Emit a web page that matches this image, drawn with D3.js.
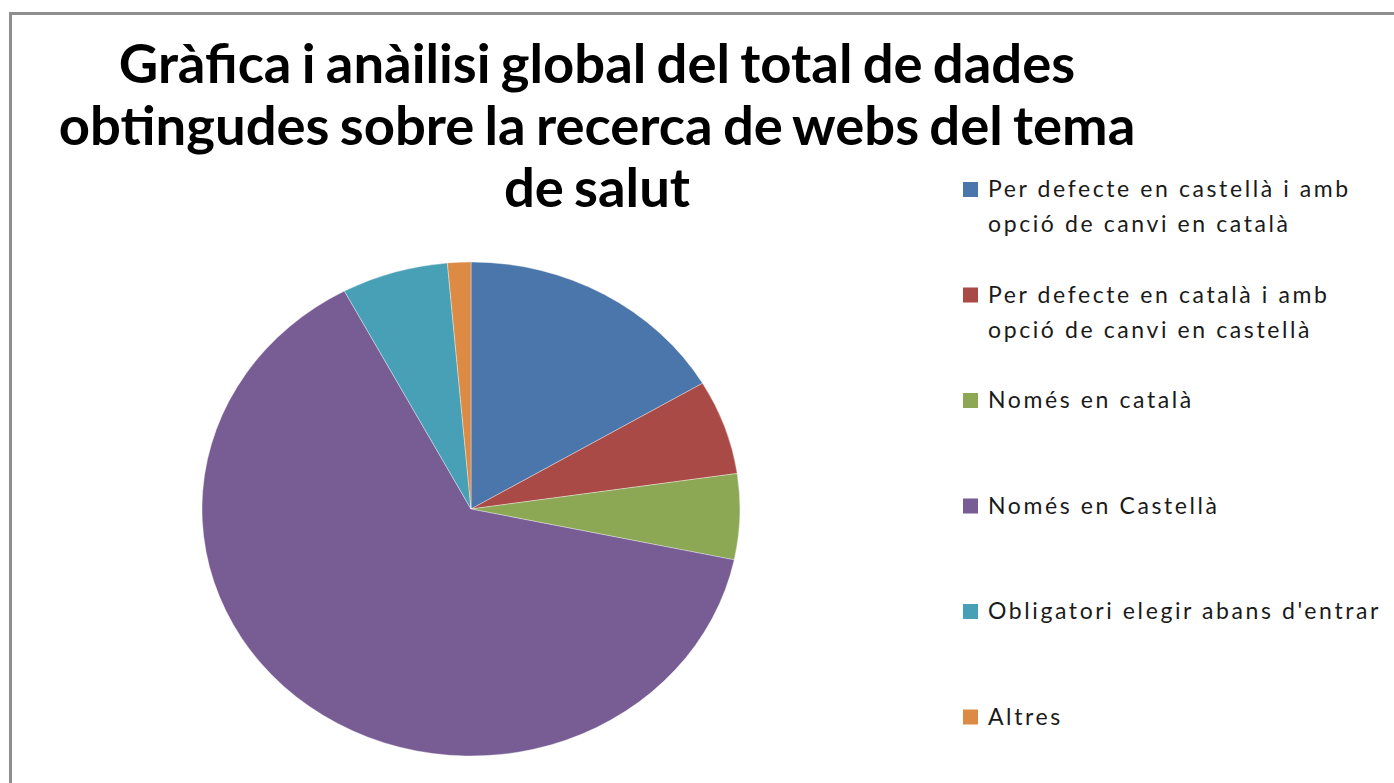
<!DOCTYPE html>
<html>
<head>
<meta charset="utf-8">
<script src="https://cdn.jsdelivr.net/npm/d3@7/dist/d3.min.js"></script>
<style>
  html, body { margin: 0; padding: 0; background: #ffffff; }
  svg { display: block; }
</style>
</head>
<body>
<svg id="chart" width="1394" height="783"></svg>
<script>
// Chart content
const titleLines = [
  "Gràfica i anàilisi global del total de dades",
  "obtingudes sobre la recerca de webs del tema",
  "de salut"
];
const categories = [
  "Per defecte en castellà i amb opció de canvi en català",
  "Per defecte en català i amb opció de canvi en castellà",
  "Només en català",
  "Només en Castellà",
  "Obligatori elegir abans d'entrar",
  "Altres"
];
// Legend labels wrapped as they appear
const legendLines = [
  ["Per defecte en castellà i amb", "opció de canvi en català"],
  ["Per defecte en català i amb", "opció de canvi en castellà"],
  ["Només en català"],
  ["Només en Castellà"],
  ["Obligatori elegir abans d'entrar"],
  ["Altres"]
];
// Share of websites (%)
const values = [16.5, 6.2, 5.6, 63.9, 6.4, 1.4];
const colors = ["#4a76ab", "#aa4a46", "#8ca855", "#775d94", "#47a0b5", "#dc8a44"];

const svg = d3.select("#chart");

// Frame
svg.append("path")
  .attr("d", "M10.5,790 L10.5,13.5 L1400,13.5")
  .attr("fill", "none")
  .attr("stroke", "#8e8e8e")
  .attr("stroke-width", 3);

// Title
const title = svg.append("g")
  .attr("font-family", "Lato, 'Open Sans', sans-serif")
  .attr("font-weight", "bold")
  .attr("fill", "#000");
const titleTexts = title.selectAll("text")
  .data(titleLines)
  .join("text")
  .attr("x", 597)
  .attr("y", (d, i) => 83 + i * 62)
  .attr("text-anchor", "middle")
  .attr("font-size", 46)
  .attr("word-spacing", -3)
  .text(d => d);
// Fit the longest line to the title block width
const widest = d3.max(titleTexts.nodes(), n => n.getComputedTextLength());
const titleSize = 46 * 1073 / widest;
titleTexts.attr("font-size", titleSize);

// Pie (slightly wider than tall)
const cx = 471, cy = 509, ry = 247, rx = 269;
const pie = d3.pie().sort(null).value(d => d)(values);
const arc = d3.arc().innerRadius(0).outerRadius(ry);
svg.append("g")
  .attr("transform", `translate(${cx},${cy}) scale(${rx / ry},1)`)
  .selectAll("path")
  .data(pie)
  .join("path")
  .attr("d", arc)
  .attr("fill", (d, i) => colors[i])
  .attr("stroke", "rgba(255,255,255,0.45)")
  .attr("stroke-width", 0.8)
  .attr("vector-effect", "non-scaling-stroke");

// Legend
const legendY = d3.scalePoint()
  .domain(d3.range(categories.length))
  .range([197, 724.5]);
const legend = svg.append("g")
  .attr("font-family", "Lato, 'Open Sans', sans-serif")
  .attr("font-size", 23)
  .attr("fill", "#1a1a1a");
const items = legend.selectAll("g")
  .data(categories)
  .join("g")
  .attr("transform", (d, i) => `translate(963,${legendY(i)})`);
items.append("rect")
  .attr("x", 0)
  .attr("y", -15)
  .attr("width", 15)
  .attr("height", 15)
  .attr("fill", (d, i) => colors[i]);
items.each(function(d, i) {
  d3.select(this).selectAll("text")
    .data(legendLines[i])
    .join("text")
    .attr("x", 25)
    .attr("y", (t, j) => j * 35)
    .attr("letter-spacing", 2.6)
    .text(t => t);
});
</script>
</body>
</html>
